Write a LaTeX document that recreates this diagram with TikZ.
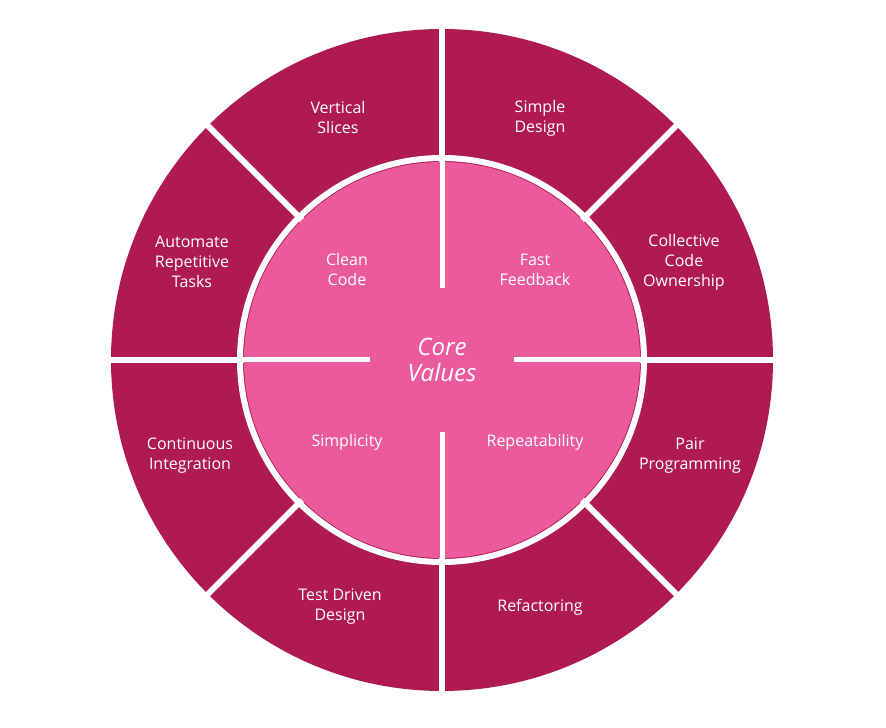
\documentclass[tikz,border=0pt]{standalone}
\usepackage{fontspec}
\setmainfont{Open Sans}
\definecolor{outerc}{HTML}{B01A52}
\definecolor{innerc}{HTML}{EB5A9D}
\tikzset{lbl/.style={text=white,align=center,font=\fontsize{16}{20}\selectfont}}
\begin{document}
\begin{tikzpicture}[x=1pt,y=1pt]
\useasboundingbox (0,0) rectangle (886,728);
\coordinate (c) at (442,368);
\fill[outerc] (c) circle (331);
\foreach \a in {0,45,...,315} \draw[white,line width=6] (c) -- ++(\a:334);
\draw[white,line width=6] (c) circle (202);
\fill[innerc] (c) circle (198);
\foreach \a in {0,90,180,270} \draw[white,line width=5] (c) ++(\a:72) -- ++(\a:130);
\node[lbl] (vs) at (338,610) {Vertical\\Slices};
\node[lbl] (sd) at (540,610) {Simple\\Design};
\node[lbl] (cco) at (684,466) {Collective\\Code\\Ownership};
\node[lbl] (pp) at (690,272) {Pair\\Programming};
\node[lbl] (rf) at (540,121) {Refactoring};
\node[lbl] (tdd) at (340,121) {Test Driven\\Design};
\node[lbl] (ci) at (190,272) {Continuous\\Integration};
\node[lbl] (art) at (192,466) {Automate\\Repetitive\\Tasks};
\node[lbl] (cc) at (347,458) {Clean\\Code};
\node[lbl] (ff) at (535,458) {Fast\\Feedback};
\node[lbl] (si) at (347,286) {Simplicity};
\node[lbl] (re) at (535,286) {Repeatability};
\node[text=white,align=center,font=\fontsize{24}{26}\selectfont\itshape] (cv) at (c) {Core\\Values};
\end{tikzpicture}
\end{document}
